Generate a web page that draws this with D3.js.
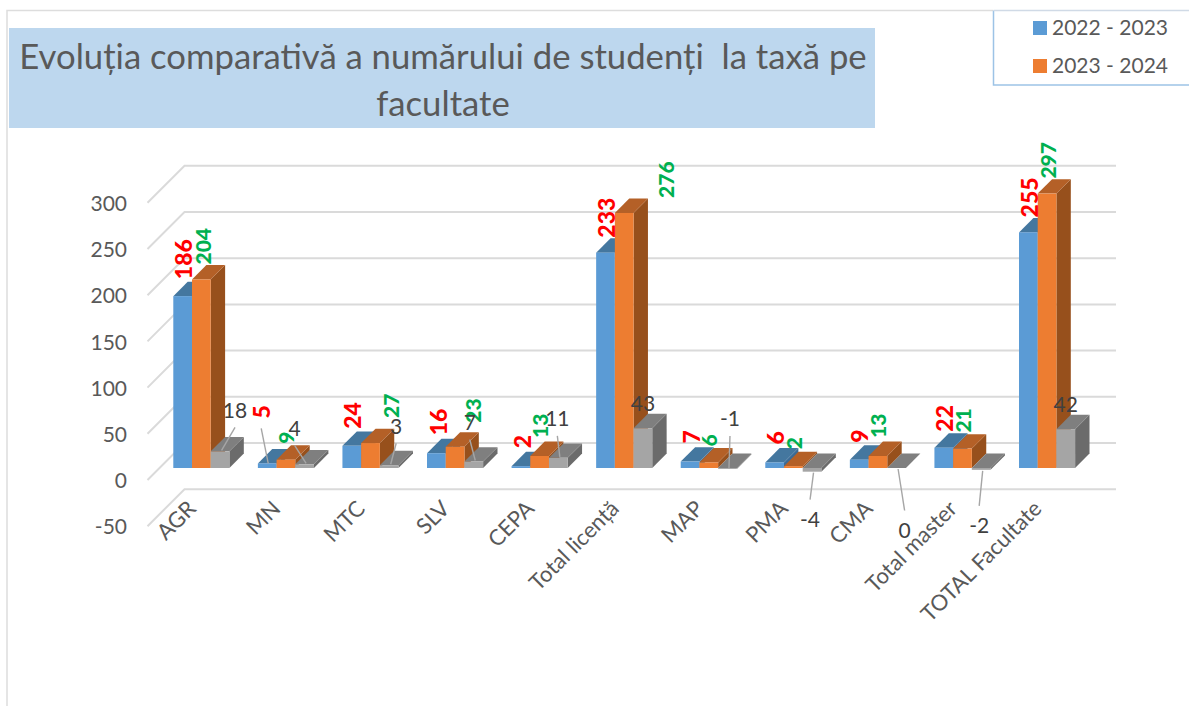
<!DOCTYPE html>
<html>
<head>
<meta charset="utf-8">
<script src="https://cdnjs.cloudflare.com/ajax/libs/d3/7.8.5/d3.min.js"></script>
<style>
    body { margin: 0; background: #fff; }
    text { font-family: Lato, "Open Sans", sans-serif; }
</style>
</head>
<body>
<div id="plot"></div>
<script>
var categories = ["AGR", "MN", "MTC", "SLV", "CEPA", "Total licență", "MAP", "PMA", "CMA", "Total master", "TOTAL Facultate"];
var seriesNames = ["2022 - 2023", "2023 - 2024"];
var values2022 = [186, 5, 24, 16, 2, 233, 7, 6, 9, 22, 255];
var values2023 = [204, 9, 27, 23, 13, 276, 6, 2, 13, 21, 297];
var differences = [18, 4, 3, 7, 11, 43, -1, -4, 0, -2, 42];
var yTicks = [-50, 0, 50, 100, 150, 200, 250, 300];
var titleLines = ["Evoluția comparativă a numărului de studenți  la taxă pe", "facultate"];

// Hand-placed label nudges, as Excel had them moved around.
var redDx = [1, -6, 1, 2, 2, 1.5, 2, 1, 1, 1, 1];
var redDy = [0, -28, 0, -1, -1, 2, -1, -1, 0, 1, 2];
var greenDx = [2, 1, 20.5, 18, 1, 42, 1, 1, 1, 0.5, 1];
var greenDy = [2, 1, -8, -7, -1, 2, 1, 0, -1, 1, 2];
var diffDx = [15, -10, 7, -4, -1, 0, 2.5, -2, 8, -2, 0];
var diffDy = [-41, -36, -39, -39, -39, -25, -50, 48, 62.5, 56, -25];
var diffLeader = [true, true, true, true, true, false, true, true, true, true, false];

var width = 1189, height = 706;
var depth = 14.4;          // bar depth in the fake 3d
var wallFront = 12, wallBack = 25, wallSkew = 37;

var faces = {
    blue: {front: "#5B9BD5", top: "#44779F", side: "#3B6B96"},
    orange: {front: "#ED7D31", top: "#B46027", side: "#97501C"},
    gray: {front: "#A5A5A5", top: "#7F7F7F", side: "#6B6B6B"}
};

var svg = d3.select("#plot")
    .append("svg")
    .attr("width", width)
    .attr("height", height);

var x = d3.scaleBand()
    .domain(categories)
    .range([173.3, 1075.1])
    .paddingInner(0.3366)
    .paddingOuter(0)
    .align(0);

var x1 = d3.scaleBand()
    .domain([0, 1, 2])
    .range([0, x.bandwidth()]);

var y = d3.scaleLinear()
    .domain([-50, 300])
    .range([514.2, 190.8]);

// Sheet edges
svg.append("path")
    .attr("d", d3.line()([[7, 706], [7, 10.5], [993, 10.5]]))
    .attr("fill", "none")
    .attr("stroke", "#DDDDDD")
    .attr("stroke-width", 1.5);

// Title box
svg.append("rect")
    .attr("x", 9).attr("y", 28)
    .attr("width", 866).attr("height", 100)
    .attr("fill", "#BDD7EE");

svg.append("g").selectAll("text")
    .data(titleLines)
    .enter()
    .append("text")
    .attr("x", 443)
    .attr("y", function (d, i) { return 69 + i * 47; })
    .attr("text-anchor", "middle")
    .attr("font-size", 34.7)
    .attr("fill", "#595959")
    .style("white-space", "pre")
    .text(function (d) { return d; });

// Legend
svg.append("path")
    .attr("d", d3.line()([[993.5, 10.5], [993.5, 85], [1189, 85]]))
    .attr("fill", "none")
    .attr("stroke", "#9DC3E6")
    .attr("stroke-width", 1.5);
svg.append("line")
    .attr("x1", 993.5).attr("x2", 1189)
    .attr("y1", 10.5).attr("y2", 10.5)
    .attr("stroke", "#D0DAE6")
    .attr("stroke-width", 1.5);

var legend = svg.append("g").selectAll("g")
    .data(seriesNames)
    .enter()
    .append("g")
    .attr("transform", function (d, i) { return "translate(1033," + (21 + i * 38) + ")"; });
legend.append("rect")
    .attr("width", 14).attr("height", 14)
    .attr("fill", function (d, i) { return i === 0 ? faces.blue.front : faces.orange.front; });
legend.append("text")
    .attr("x", 19).attr("y", 14)
    .attr("font-size", 21)
    .attr("fill", "#595959")
    .text(function (d) { return d; });

// Walls: back gridlines and the diagonal floor lines
var grid = svg.append("g")
    .attr("fill", "none")
    .attr("stroke", "#DADADA")
    .attr("stroke-width", 2);
grid.selectAll("path")
    .data(yTicks)
    .enter()
    .append("path")
    .attr("d", function (d) {
        return d3.line()([
            [147.5, y(d) + wallFront],
            [147.5 + wallSkew, y(d) - wallBack],
            [1116, y(d) - wallBack]
        ]);
    });

// Y axis, sits on the front edge of the walls
var axis = svg.append("g")
    .attr("transform", "translate(127," + (wallFront + 1) + ")")
    .call(d3.axisLeft(y).tickValues(yTicks).tickFormat(String).tickSize(0).tickPadding(0));
axis.select(".domain").remove();
axis.selectAll("text")
    .attr("font-size", 21)
    .attr("fill", "#595959")
    .style("font-family", "Lato");

// X axis, labels at 45 degrees
var xAxis = svg.append("g")
    .attr("transform", "translate(0,497)")
    .call(d3.axisBottom(x).tickSize(0));
xAxis.select(".domain").remove();
xAxis.selectAll("text")
    .attr("font-size", 22)
    .attr("fill", "#595959")
    .style("font-family", "Lato")
    .attr("text-anchor", "end")
    .attr("dy", "0.7em")
    .attr("transform", "translate(-17,0) rotate(-45)");

// One 3d box: side, top, then front
function drawBox(g, category, slot, value, face) {
    var left = x(category) + x1(slot);
    var right = left + x1.bandwidth();
    var y0 = y(0), yv = y(value);
    var top = Math.min(y0, yv), bottom = Math.max(y0, yv);
    g.append("path")
        .attr("d", d3.line()([[right, top], [right + depth, top - depth], [right + depth, bottom - depth], [right, bottom]]) + "Z")
        .attr("fill", face.side);
    g.append("path")
        .attr("d", d3.line()([[left, top], [left + depth, top - depth], [right + depth, top - depth], [right, top]]) + "Z")
        .attr("fill", face.top);
    g.append("rect")
        .attr("x", left)
        .attr("y", top)
        .attr("width", x1.bandwidth())
        .attr("height", bottom - top)
        .attr("fill", face.front);
}

var bars = svg.append("g");
categories.forEach(function (c, i) {
    drawBox(bars, c, 0, values2022[i], faces.blue);
    drawBox(bars, c, 1, values2023[i], faces.orange);
    drawBox(bars, c, 2, differences[i], faces.gray);
});

function barCenter(category, slot) {
    return x(category) + x1(slot) + x1.bandwidth() / 2;
}

// Rotated value labels, red and green
function drawVerticalLabels(values, slot, dxs, dys, color, size) {
    svg.append("g").selectAll("text")
        .data(values)
        .enter()
        .append("text")
        .attr("transform", function (d, i) {
            return "translate(" + (barCenter(categories[i], slot) + dxs[i]) + "," + (y(d) - 17 + dys[i]) + ") rotate(-90)";
        })
        .attr("dy", "0.36em")
        .attr("font-size", size)
        .attr("font-weight", 900)
        .attr("fill", color)
        .text(function (d) { return d; });
}

// Leader lines go first so the labels stay on top
var leaders = svg.append("g")
    .attr("stroke", "#A6A6A6")
    .attr("stroke-width", 1.4);

function addLeader(fromX, fromY, toX, toY) {
    leaders.append("line")
        .attr("x1", fromX).attr("y1", fromY)
        .attr("x2", toX).attr("y2", toY);
}

// the only red label with a leader is MN
addLeader(barCenter("MN", 0) + redDx[1], y(values2022[1]) - 35, barCenter("MN", 0) + 1, y(values2022[1]));

differences.forEach(function (d, i) {
    if (!diffLeader[i]) return;
    var cx = barCenter(categories[i], 2);
    var below = diffDy[i] > 0;
    addLeader(cx + diffDx[i], y(d) + diffDy[i] + (below ? -20 : 17), cx + 1.5, y(d) + (below ? 1 : -1));
});

drawVerticalLabels(values2022, 0, redDx, redDy, "#FF0000", 23);
drawVerticalLabels(values2023, 1, greenDx, greenDy, "#00B050", 21);

svg.append("g").selectAll("text")
    .data(differences)
    .enter()
    .append("text")
    .attr("x", function (d, i) { return barCenter(categories[i], 2) + diffDx[i]; })
    .attr("y", function (d, i) { return y(d) + diffDy[i]; })
    .attr("dy", "0.36em")
    .attr("text-anchor", "middle")
    .attr("font-size", 21)
    .attr("fill", "#404040")
    .text(function (d) { return d; });
</script>
</body>
</html>
